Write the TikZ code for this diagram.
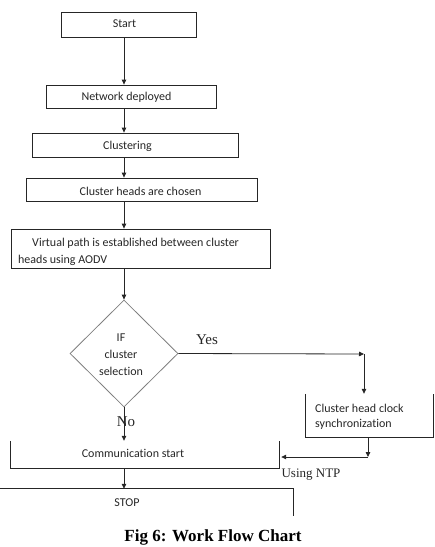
\documentclass[tikz,border=0pt]{standalone}
\usepackage{fontspec}
\setmainfont{Liberation Serif}
\newfontfamily\boxfont[Ligatures={NoCommon}]{Carlito}
\usetikzlibrary{shapes.geometric,arrows.meta}
\begin{document}
\begin{tikzpicture}[x=1pt,y=-1pt,
  line/.style={draw=black!85, line width=0.8pt},
  arr/.style={line, -{Triangle[length=5pt,width=4.5pt]}},
  boxframe/.style={draw=black!85, line width=0.8pt, inner sep=0pt},
  openframe/.style={inner sep=0pt},
  txt/.style={font=\boxfont\fontsize{12}{17}\selectfont, inner sep=0pt, text=black!85},
  serif/.style={font=\fontsize{15}{17}\selectfont, inner sep=0pt, text=black!85},
  decision/.style={diamond, draw=black!50, line width=0.8pt, inner sep=0pt, aspect=1}
]
\useasboundingbox (0,0) rectangle (435,547);

% boxes
\node[boxframe, minimum width=135, minimum height=25] (start) at (128.5,24.5) {};
\node[txt] (startT) at (124.5,23.5) {Start};

\node[boxframe, minimum width=170, minimum height=23] (deploy) at (131,96.5) {};
\node[txt] (deployT) at (126.5,97.5) {Network deployed};

\node[boxframe, minimum width=206, minimum height=24] (clust) at (135,145) {};
\node[txt] (clustT) at (127.5,146) {Clustering};

\node[boxframe, minimum width=231, minimum height=23] (heads) at (141.5,189.5) {};
\node[txt] (headsT) at (140.5,191.5) {Cluster heads are chosen};

\node[boxframe, minimum width=259, minimum height=39] (virtual) at (140.5,248.5) {};
\node[txt, anchor=west, align=left] (virtualT) at (18,251.5) {\hspace*{14pt}Virtual path is established between cluster\\heads using AODV};

\node[decision, minimum width=108, minimum height=107] (dia) at (124,353.5) {};
\node[txt, align=center] (diaT) at (121,355) {IF\\cluster\\selection};

\node[serif] (yes) at (207,340) {Yes};
\node[serif] (no) at (126,422) {No};

\node[openframe, minimum width=127, minimum height=43] (chc) at (369.5,415.5) {};
\draw[line] (chc.north west) -- (chc.south west) -- (chc.south east) -- (chc.north east);
\node[txt, anchor=west, align=left, font=\boxfont\fontsize{12}{14.5}\selectfont] (chcT) at (315,417) {Cluster head clock\\synchronization};

\node[openframe, minimum width=268, minimum height=27] (comm) at (145,454.5) {};
\draw[line] (comm.north west) -- (comm.south west) -- (comm.south east) -- (comm.north east);
\node[txt] (commT) at (133,453) {Communication start};

\node[serif, font=\fontsize{13}{15}\selectfont] (ntp) at (311,475) {Using NTP};

\node[openframe, minimum width=293, minimum height=27] (stop) at (146.5,502.5) {};
\draw[line] (stop.north west) -- (stop.north east) -- (stop.south east);
\node[txt] (stopT) at (127,503) {STOP};

\node[inner sep=0pt, font=\bfseries\fontsize{17}{19}\selectfont] (caption) at (213,537) {Fig 6: Work Flow Chart};

% connectors
\draw[arr] (start.south -| dia.north) -- (deploy.north -| dia.north);
\draw[arr] (deploy.south -| dia.north) -- (clust.north -| dia.north);
\draw[arr] (clust.south -| dia.north) -- (heads.north -| dia.north);
\draw[arr] (heads.south -| dia.north) -- (virtual.north -| dia.north);
\draw[arr] (virtual.south -| dia.north) -- (dia.north);
\coordinate (ycorner) at (364,354);
\draw[arr] (dia.east) -- (ycorner);
\draw[arr] (ycorner) -- (chc.north -| ycorner);
\coordinate (ncorner) at (368,457);
\draw[arr] (chc.south -| ncorner) -- (ncorner);
\draw[arr] (ncorner) -- ([xshift=2pt]ncorner -| comm.east);
\draw[arr] (dia.south) -- (comm.north -| dia.south);
\draw[arr] (comm.south -| dia.south) -- (stop.north -| dia.south);
\end{tikzpicture}
\end{document}
